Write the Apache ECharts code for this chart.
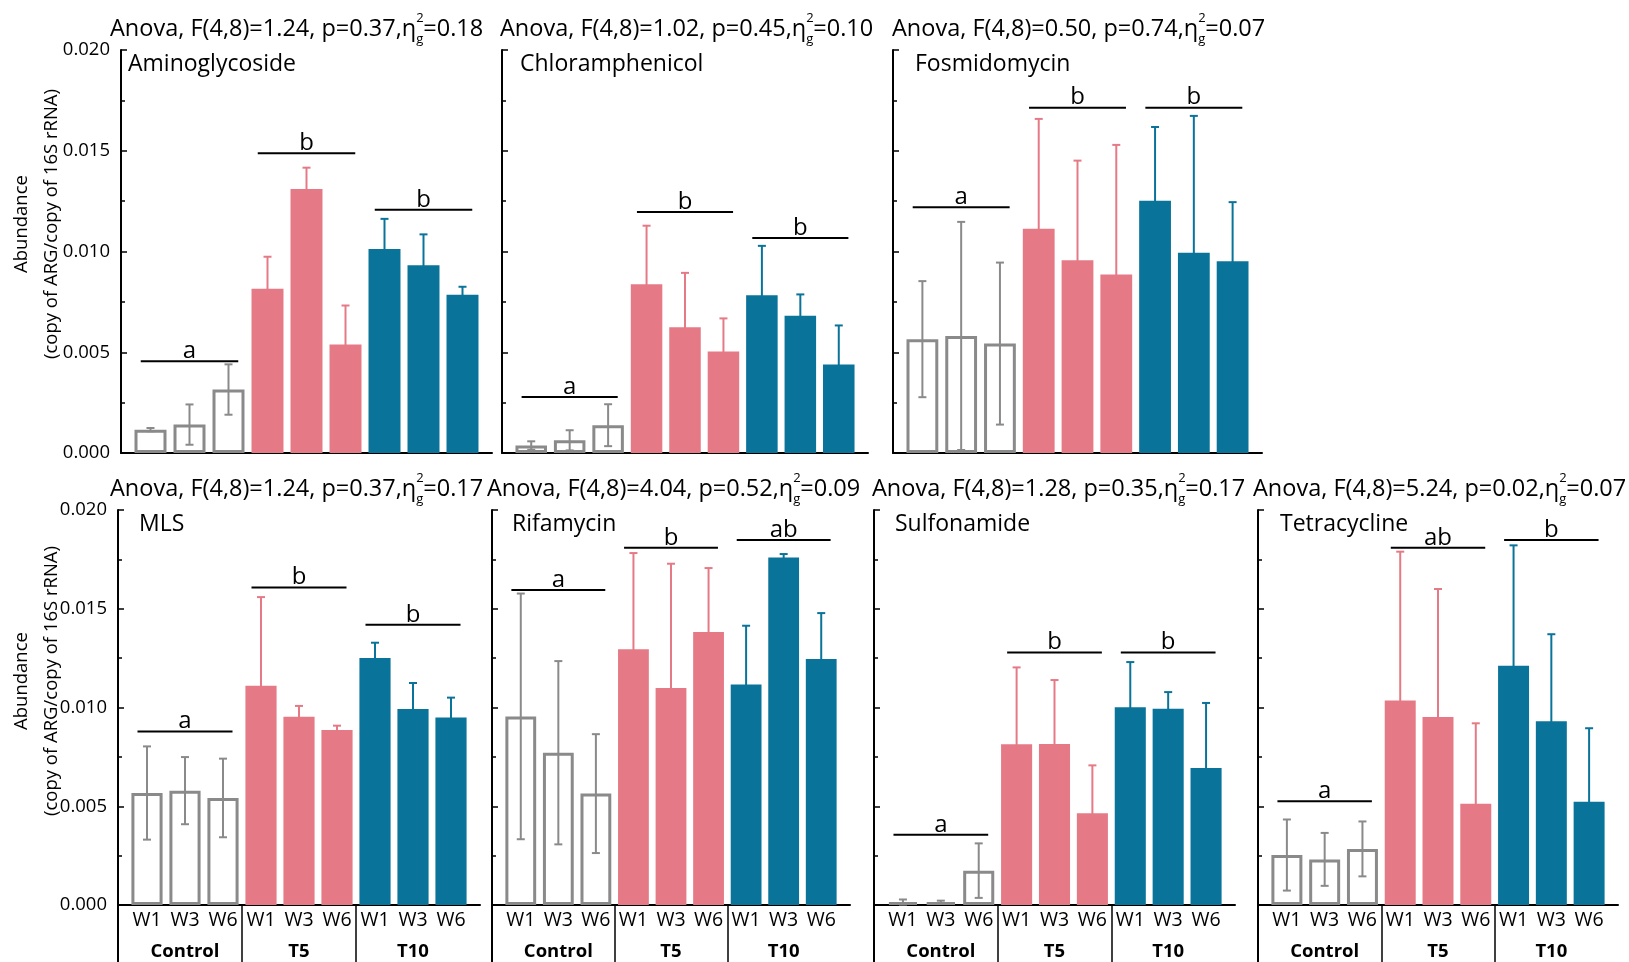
<!DOCTYPE html>
<html>
<head>
<meta charset="utf-8">
<title>ARG abundance</title>
<script src="https://cdn.jsdelivr.net/npm/echarts@6/dist/echarts.min.js"></script>
<style>
  html, body { margin: 0; padding: 0; background: #fff; }
  #chart { width: 1629px; height: 962px; }
</style>
</head>
<body>
<div id="chart"></div>
<script>
// ---- data ----
const weeks = ['W1', 'W3', 'W6']
const groups = ['Control', 'T5', 'T10']
const categories = groups.flatMap((g) => weeks.map((w) => g + ' ' + w))

const panelNames = ['Aminoglycoside', 'Chloramphenicol', 'Fosmidomycin', 'MLS', 'Rifamycin', 'Sulfonamide', 'Tetracycline']
const anovaF = ['1.24', '1.02', '0.50', '1.24', '4.04', '1.28', '5.24']
const anovaP = ['0.37', '0.45', '0.74', '0.37', '0.52', '0.35', '0.02']
const anovaEta = ['0.18', '0.10', '0.07', '0.17', '0.09', '0.17', '0.07']

const meanAminoglycoside = [0.00116, 0.00141, 0.00315, 0.00815, 0.0131, 0.00538, 0.01012, 0.00932, 0.00785]
const sdAminoglycoside = [0.00008, 0.001, 0.00125, 0.00159, 0.00106, 0.00194, 0.0015, 0.00153, 0.0004]
const meanChloramphenicol = [0.00037, 0.00063, 0.00138, 0.00837, 0.00624, 0.00504, 0.00783, 0.00681, 0.00439]
const sdChloramphenicol = [0.00021, 0.0005, 0.00104, 0.00291, 0.0027, 0.00164, 0.00245, 0.00106, 0.00194]
const meanFosmidomycin = [0.00565, 0.00581, 0.00543, 0.01113, 0.00956, 0.00886, 0.01252, 0.00994, 0.00952]
const sdFosmidomycin = [0.00288, 0.00566, 0.00402, 0.00545, 0.00495, 0.00643, 0.00366, 0.00679, 0.00293]
const meanMLS = [0.00567, 0.00579, 0.00542, 0.0111, 0.00953, 0.00886, 0.01251, 0.00992, 0.0095]
const sdMLS = [0.00236, 0.0017, 0.00199, 0.00449, 0.00055, 0.00022, 0.00077, 0.00132, 0.001]
const meanRifamycin = [0.00955, 0.00771, 0.00564, 0.01295, 0.01099, 0.01382, 0.01117, 0.01759, 0.01246]
const sdRifamycin = [0.00622, 0.00464, 0.00301, 0.00487, 0.00629, 0.00324, 0.00297, 0.00018, 0.00232]
const meanSulfonamide = [0.00015, 0.00014, 0.00174, 0.00814, 0.00815, 0.00464, 0.01001, 0.00994, 0.00694]
const sdSulfonamide = [0.00013, 0.00008, 0.00138, 0.00389, 0.00324, 0.00243, 0.00229, 0.00084, 0.00329]
const meanTetracycline = [0.00253, 0.00231, 0.00284, 0.01036, 0.00952, 0.00513, 0.01212, 0.0093, 0.00523]
const sdTetracycline = [0.0018, 0.00134, 0.00139, 0.00753, 0.00648, 0.00407, 0.00609, 0.00441, 0.00372]

const means = [meanAminoglycoside, meanChloramphenicol, meanFosmidomycin, meanMLS, meanRifamycin, meanSulfonamide, meanTetracycline]
const sds = [sdAminoglycoside, sdChloramphenicol, sdFosmidomycin, sdMLS, sdRifamycin, sdSulfonamide, sdTetracycline]

// significance letters per group and the height of their bracket line
const sigLetters = [
  ['a', 'b', 'b'], ['a', 'b', 'b'], ['a', 'b', 'b'],
  ['a', 'b', 'b'], ['a', 'b', 'ab'], ['a', 'b', 'b'], ['a', 'ab', 'b'],
]
const sigHeights = [
  [0.00455, 0.01487, 0.01207],
  [0.00278, 0.01196, 0.01067],
  [0.01219, 0.01714, 0.01714],
  [0.00878, 0.01608, 0.01419],
  [0.01595, 0.01809, 0.01848],
  [0.00356, 0.01278, 0.01278],
  [0.00525, 0.01809, 0.01848],
]

const yMax = 0.02
const yStep = 0.005

// ---- style / layout ----
const FONT = 'Open Sans'
const COLORS = ['#8a8a8a', '#e57a86', '#0a7399']
const PAD = 10
// l = y axis x, r = end of x axis, t = top (0.020), b = baseline (0.000)
const layout = [
  { l: 121, r: 492, t: 50, b: 453, tx: 110, nx: 128, labels: true },
  { l: 502, r: 868, t: 50, b: 453, tx: 500, nx: 520 },
  { l: 893, r: 1262, t: 50, b: 453, tx: 892, nx: 915 },
  { l: 118, r: 480, t: 510, b: 905, tx: 110, nx: 139, labels: true, table: true },
  { l: 492, r: 850, t: 510, b: 905, tx: 487, nx: 512, table: true },
  { l: 874, r: 1235, t: 510, b: 905, tx: 872, nx: 895, table: true },
  { l: 1258, r: 1618, t: 510, b: 905, tx: 1253, nx: 1280, table: true },
]

const grid = []
const xAxis = []
const yAxis = []
const series = []
const title = []

layout.forEach((L, i) => {
  const w = L.r - L.l
  const h = L.b - L.t

  // outer grid: only the full-length x axis line
  const gOuter = grid.length
  grid.push({ left: L.l, top: L.t, width: w, height: h })
  xAxis.push({
    gridIndex: gOuter, type: 'category', data: [''],
    axisLine: { lineStyle: { color: '#000', width: 2 } },
    axisTick: { show: false }, axisLabel: { show: false },
  })
  yAxis.push({ gridIndex: gOuter, type: 'value', min: 0, max: 1, show: false })
  series.push({ type: 'bar', xAxisIndex: xAxis.length - 1, yAxisIndex: yAxis.length - 1, data: [] })

  // inner grid: bars
  const gIn = grid.length
  grid.push({ left: L.l + PAD, top: L.t, width: w - 2 * PAD, height: h })
  const xIn = xAxis.length
  xAxis.push({
    gridIndex: gIn, type: 'category', data: categories,
    axisLine: { show: false }, axisTick: { show: false },
    axisLabel: {
      show: !!L.table, interval: 0, margin: 5,
      formatter: (v) => v.split(' ')[1],
      color: '#000', fontFamily: FONT, fontSize: 19.5,
    },
  })
  if (L.table) {
    xAxis.push({
      gridIndex: gIn, type: 'category', data: groups, position: 'bottom', offset: 32,
      axisLine: { show: false, onZero: false }, axisTick: { show: false },
      axisLabel: { interval: 0, margin: 5, color: '#000', fontFamily: FONT, fontSize: 18.5, fontWeight: 'bold' },
    })
  }
  const yIn = yAxis.length
  yAxis.push({
    gridIndex: gIn, type: 'value', min: 0, max: yMax, interval: yStep, offset: PAD,
    axisLine: { show: true, lineStyle: { color: '#000', width: 2 } },
    axisTick: { show: true, inside: true, length: 6, lineStyle: { color: '#000', width: 1.5 } },
    minorTick: { show: true, splitNumber: 2, length: 4, lineStyle: { color: '#000', width: 1.5 } },
    splitLine: { show: false },
    axisLabel: {
      show: !!L.labels, margin: 11, formatter: (v) => v.toFixed(3),
      color: '#000', fontFamily: FONT, fontSize: 18.5,
    },
  })

  const m = means[i]
  const s = sds[i]
  series.push({
    type: 'bar', xAxisIndex: xIn, yAxisIndex: yIn, barWidth: '82%', z: 3,
    silent: true,
    data: m.map((v, k) => {
      const g = Math.floor(k / 3)
      return {
        value: v,
        itemStyle: g === 0
          ? { color: 'rgba(0,0,0,0)', borderColor: COLORS[0], borderWidth: 3 }
          : { color: COLORS[g] },
      }
    }),
  })
  series.push({
    type: 'custom', xAxisIndex: xIn, yAxisIndex: yIn, z: 2, silent: true,
    data: m.map((v, k) => [k, v, s[k]]),
    renderItem: (params, api) => {
      const k = api.value(0)
      const v = api.value(1)
      const e = api.value(2)
      const top = api.coord([k, v + e])
      const bot = api.coord([k, Math.max(0, v - e)])
      const c = COLORS[Math.floor(k / 3)]
      const cap = 4
      const st = { stroke: c, lineWidth: 2 }
      return {
        type: 'group',
        children: [
          { type: 'line', shape: { x1: top[0], y1: top[1], x2: bot[0], y2: bot[1] }, style: st },
          { type: 'line', shape: { x1: top[0] - cap, y1: top[1], x2: top[0] + cap, y2: top[1] }, style: st },
          { type: 'line', shape: { x1: bot[0] - cap, y1: bot[1], x2: bot[0] + cap, y2: bot[1] }, style: st },
        ],
      }
    },
  })
  const letters = sigLetters[i]
  series.push({
    type: 'custom', xAxisIndex: xIn, yAxisIndex: yIn, z: 4, silent: true,
    data: sigHeights[i].map((v, g) => [g * 3 + 1, v]),
    renderItem: (params, api) => {
      const c = api.coord([api.value(0), api.value(1)])
      const half = api.size([1, 0])[0] * 1.25
      return {
        type: 'group',
        children: [
          { type: 'line', shape: { x1: c[0] - half, y1: c[1], x2: c[0] + half, y2: c[1] }, style: { stroke: '#000', lineWidth: 2 } },
          {
            type: 'text', x: c[0], y: c[1] + 2,
            style: { text: letters[params.dataIndex], font: '24px "' + FONT + '"', fill: '#000', textAlign: 'center', textVerticalAlign: 'bottom' },
          },
        ],
      }
    },
  })

  // table below the bottom row: separators and the left border
  if (L.table) {
    const gT = grid.length
    grid.push({ left: L.l + PAD, top: L.b, width: w - 2 * PAD, height: 962 - L.b + 2 })
    xAxis.push({
      gridIndex: gT, type: 'category', data: groups,
      axisLine: { show: false }, axisTick: { show: false }, axisLabel: { show: false },
      splitLine: { show: true, interval: 0, showMinLine: false, showMaxLine: false, lineStyle: { color: '#000', width: 1.5 } },
    })
    yAxis.push({
      gridIndex: gT, type: 'value', min: 0, max: 1, offset: PAD,
      axisLine: { show: true, lineStyle: { color: '#000', width: 2 } },
      axisTick: { show: false }, axisLabel: { show: false }, splitLine: { show: false },
    })
    series.push({ type: 'bar', xAxisIndex: xAxis.length - 1, yAxisIndex: yAxis.length - 1, data: [] })
  }

  // titles
  title.push({
    text: 'Anova, F(4,8)=' + anovaF[i] + ', p=' + anovaP[i] + ',η{sup|2}{sub|g}=' + anovaEta[i],
    left: L.tx, top: L.t - 38, padding: 0,
    textStyle: {
      fontFamily: FONT, fontSize: 23.5, fontWeight: 'normal', color: '#000', lineHeight: 34,
      rich: {
        sup: { fontFamily: FONT, fontSize: 13, verticalAlign: 'top', width: 0, color: '#000' },
        sub: { fontFamily: FONT, fontSize: 13, verticalAlign: 'bottom', color: '#000' },
      },
    },
  })
  title.push({
    text: panelNames[i], left: L.nx, top: L.t + 3, padding: 0,
    textStyle: { fontFamily: FONT, fontSize: 23, fontWeight: 'normal', color: '#000' },
  })
})

const yName = (cx, cy) => [
  { type: 'text', x: cx, y: cy, rotation: Math.PI / 2,
    style: { text: 'Abundance', font: '18.5px "' + FONT + '"', fill: '#000', textAlign: 'center', textVerticalAlign: 'middle' } },
  { type: 'text', x: cx + 30, y: cy, rotation: Math.PI / 2,
    style: { text: '(copy of ARG/copy of 16S rRNA)', font: '18.5px "' + FONT + '"', fill: '#000', textAlign: 'center', textVerticalAlign: 'middle' } },
]

const chart = echarts.init(document.getElementById('chart'))
chart.setOption({
  backgroundColor: '#fff',
  animation: false,
  title,
  grid,
  xAxis,
  yAxis,
  series,
  graphic: [...yName(22, 224), ...yName(22, 681)],
})
</script>
</body>
</html>
